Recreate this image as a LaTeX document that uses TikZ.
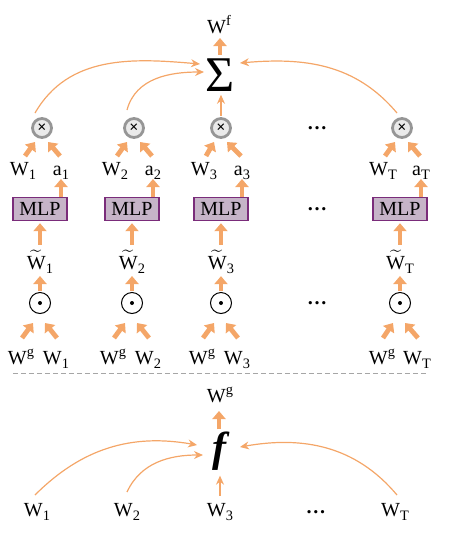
\documentclass[tikz,border=0pt]{standalone}
\usepackage{fontspec}
\setmainfont{Liberation Serif}
\definecolor{FlowOrange}{RGB}{244,166,104}
\definecolor{MLPFill}{RGB}{198,180,200}
\definecolor{MLPEdge}{RGB}{122,44,122}
\definecolor{RingGray}{RGB}{150,150,150}
\usetikzlibrary{arrows.meta}
\newcommand\sbs[1]{\raisebox{-2.3pt}{\fontsize{7.2}{7.2}\selectfont #1}}
\newcommand\sps[1]{\raisebox{3.8pt}{\fontsize{7.2}{7.2}\selectfont #1}}
\newcommand\tld[1]{$\widetilde{\hbox{#1}}$}

\begin{document}
\begin{tikzpicture}[x=0.5pt, y=0.5pt,
      every node/.style={font=\fontsize{10}{12}\selectfont, inner sep=0pt},
      lbl/.style       ={anchor=base},
      mlp/.style       ={draw=MLPEdge, fill=MLPFill, line width=0.7pt, minimum width=27pt, minimum height=11.5pt},
      mul/.style       ={circle, draw=RingGray, fill=RingGray!20, line width=1.4pt, minimum size=9.5pt,
                         font=\fontsize{8}{8}\selectfont\bfseries},
      had/.style       ={circle, draw, line width=0.5pt, minimum size=10.5pt,
                         path picture={\fill (path picture bounding box.center) circle (1pt);}},
      dts/.style       ={font=\fontsize{10}{12}\selectfont\bfseries},
      thk/.style       ={-{Triangle[width=6.5pt,length=4pt]}, line width=2.4pt, FlowOrange},
      thn/.style       ={-{Stealth[length=4.5pt,width=4pt]}, line width=0.6pt, FlowOrange},
      sep/.style       ={draw=black!35, line width=0.5pt, dash pattern=on 2.5pt off 1.5pt},
  ]
  \useasboundingbox (0,0) rectangle (453,-543);

  % ─ Sum and output ─
  \node          (sum)  at (220,-75)  {\fontsize{25}{25}\selectfont Σ};
  \node[lbl]     (wf)   at (219,-33)  {W\sps{f}};

  % ─ Column 1 ─
  \node[mul]     (x1)   at (42,-128)  {×};
  \node[lbl]     (w1)   at (23,-175)  {W\sbs{1}};
  \node[lbl]     (a1)   at (61,-175)  {a\sbs{1}};
  \node[mlp]     (mlp1) at (40,-209)  {MLP};
  \node[lbl]     (wt1)  at (40,-269)  {\tld{W}\sbs{1}};
  \node[had]     (od1)  at (40,-303)  {};
  \node[lbl]     (g1)   at (21,-364)  {W\sps{g}};
  \node[lbl]     (v1)   at (56,-364)  {W\sbs{1}};

  % ─ Column 2 ─
  \node[mul]     (x2)   at (134,-128) {×};
  \node[lbl]     (w2)   at (115,-175) {W\sbs{2}};
  \node[lbl]     (a2)   at (153,-175) {a\sbs{2}};
  \node[mlp]     (mlp2) at (132,-209) {MLP};
  \node[lbl]     (wt2)  at (132,-269) {\tld{W}\sbs{2}};
  \node[had]     (od2)  at (132,-303) {};
  \node[lbl]     (g2)   at (113,-364) {W\sps{g}};
  \node[lbl]     (v2)   at (148,-364) {W\sbs{2}};

  % ─ Column 3 ─
  \node[mul]     (x3)   at (221,-128) {×};
  \node[lbl]     (w3)   at (204,-175) {W\sbs{3}};
  \node[lbl]     (a3)   at (242,-175) {a\sbs{3}};
  \node[mlp]     (mlp3) at (221,-209) {MLP};
  \node[lbl]     (wt3)  at (221,-269) {\tld{W}\sbs{3}};
  \node[had]     (od3)  at (221,-303) {};
  \node[lbl]     (g3)   at (202,-364) {W\sps{g}};
  \node[lbl]     (v3)   at (237,-364) {W\sbs{3}};

  % ─ Dots ─
  \node[dts]     (d1)   at (317,-128) {…};
  \node[dts]     (d2)   at (317,-209) {…};
  \node[dts]     (d3)   at (317,-303) {…};

  % ─ Column T ─
  \node[mul]     (xT)   at (402,-128) {×};
  \node[lbl]     (wT)   at (383,-175) {W\sbs{T}};
  \node[lbl]     (aT)   at (421,-175) {a\sbs{T}};
  \node[mlp]     (mlpT) at (400,-209) {MLP};
  \node[lbl]     (wtT)  at (400,-269) {\tld{W}\sbs{T}};
  \node[had]     (odT)  at (400,-303) {};
  \node[lbl]     (gT)   at (382,-364) {W\sps{g}};
  \node[lbl]     (vT)   at (417,-364) {W\sbs{T}};

  % ─ Lower part: f ─
  \node[lbl]     (gb)   at (220,-402) {W\sps{g}};
  \node          (fn)   at (219,-451) {\fontsize{21}{21}\selectfont\bfseries\itshape f};
  \node[lbl]     (b1)   at (37,-516)  {W\sbs{1}};
  \node[lbl]     (b2)   at (127,-516) {W\sbs{2}};
  \node[lbl]     (b3)   at (220,-516) {W\sbs{3}};
  \node[dts]     (d4)   at (316,-512) {…};
  \node[lbl]     (bT)   at (395,-516) {W\sbs{T}};

  % ─ Arrows: column 1 ─
  \draw[thk] ([shift={(2,19)}]w1.base) -- ([shift={(-7,-14)}]x1.center);
  \draw[thk] ([shift={(-1,19)}]a1.base) -- ([shift={(6,-14)}]x1.center);
  \draw[thk, shorten >=2pt] (mlp1.north -| a1.base) -- (a1.base);
  \draw[thk, shorten <=2.5pt, shorten >=1pt] (wt1.north) -- (mlp1.south);
  \draw[thk, shorten <=0.5pt, shorten >=1pt] (od1.north) -- (wt1.south);
  \draw[thk] ([shift={(1,26)}]g1.base) -- ([shift={(-7,-20)}]od1.center);
  \draw[thk] ([shift={(1,26)}]v1.base) -- ([shift={(5,-20)}]od1.center);

  % ─ Arrows: column 2 ─
  \draw[thk] ([shift={(2,19)}]w2.base) -- ([shift={(-7,-14)}]x2.center);
  \draw[thk] ([shift={(-1,19)}]a2.base) -- ([shift={(6,-14)}]x2.center);
  \draw[thk, shorten >=2pt] (mlp2.north -| a2.base) -- (a2.base);
  \draw[thk, shorten <=2.5pt, shorten >=1pt] (wt2.north) -- (mlp2.south);
  \draw[thk, shorten <=0.5pt, shorten >=1pt] (od2.north) -- (wt2.south);
  \draw[thk] ([shift={(1,26)}]g2.base) -- ([shift={(-7,-20)}]od2.center);
  \draw[thk] ([shift={(1,26)}]v2.base) -- ([shift={(5,-20)}]od2.center);

  % ─ Arrows: column 3 ─
  \draw[thk] ([shift={(2,19)}]w3.base) -- ([shift={(-7,-14)}]x3.center);
  \draw[thk] ([shift={(-1,19)}]a3.base) -- ([shift={(6,-14)}]x3.center);
  \draw[thk, shorten >=2pt] (mlp3.north -| a3.base) -- (a3.base);
  \draw[thk, shorten <=2.5pt, shorten >=1pt] (wt3.north) -- (mlp3.south);
  \draw[thk, shorten <=0.5pt, shorten >=1pt] (od3.north) -- (wt3.south);
  \draw[thk] ([shift={(1,26)}]g3.base) -- ([shift={(-7,-20)}]od3.center);
  \draw[thk] ([shift={(1,26)}]v3.base) -- ([shift={(5,-20)}]od3.center);

  % ─ Arrows: column T ─
  \draw[thk] ([shift={(2,19)}]wT.base) -- ([shift={(-7,-14)}]xT.center);
  \draw[thk] ([shift={(-1,19)}]aT.base) -- ([shift={(6,-14)}]xT.center);
  \draw[thk, shorten >=2pt] (mlpT.north -| aT.base) -- (aT.base);
  \draw[thk, shorten <=2.5pt, shorten >=1pt] (wtT.north) -- (mlpT.south);
  \draw[thk, shorten <=0.5pt, shorten >=1pt] (odT.north) -- (wtT.south);
  \draw[thk] ([shift={(1,26)}]gT.base) -- ([shift={(-7,-20)}]odT.center);
  \draw[thk] ([shift={(1,26)}]vT.base) -- ([shift={(5,-20)}]odT.center);

  % ─ Products → sum ─
  \draw[thn] ([shift={(-7,15)}]x1.center) to[out=60,in=175] ([shift={(-20,11)}]sum.center);
  \draw[thn] ([shift={(-7,18)}]x2.center) to[out=75,in=180] ([shift={(-16,3)}]sum.center);
  \draw[thn, shorten <=0.5pt, shorten >=1.5pt] (x3.north) -- (x3.north |- sum.south);
  \draw[thn] ([shift={(-5,15)}]xT.center) to[out=130,in=5] ([shift={(20,12)}]sum.center);
  \draw[thk, shorten <=1.5pt, shorten >=2.5pt] (sum.north) -- (sum.north |- wf.base);

  % ─ Separator ─
  \draw[sep] (13,-373) -- (427,-373);

  % ─ Inputs → f ─
  \draw[thn] ([shift={(-2,21)}]b1.base) to[out=45,in=170] ([shift={(-22,6)}]fn.center);
  \draw[thn] ([shift={(0,24)}]b2.base) to[out=65,in=180] ([shift={(-16,-4)}]fn.center);
  \draw[thn, shorten <=3.5pt, shorten >=2.5pt] (b3.north) -- (b3.north |- fn.south);
  \draw[thn] ([shift={(2,21)}]bT.base) to[out=130,in=10] ([shift={(21,4)}]fn.center);
  \draw[thk, shorten <=1pt, shorten >=4.5pt] (fn.north) -- (fn.north |- gb.base);
  \end{tikzpicture}
\end{document}
